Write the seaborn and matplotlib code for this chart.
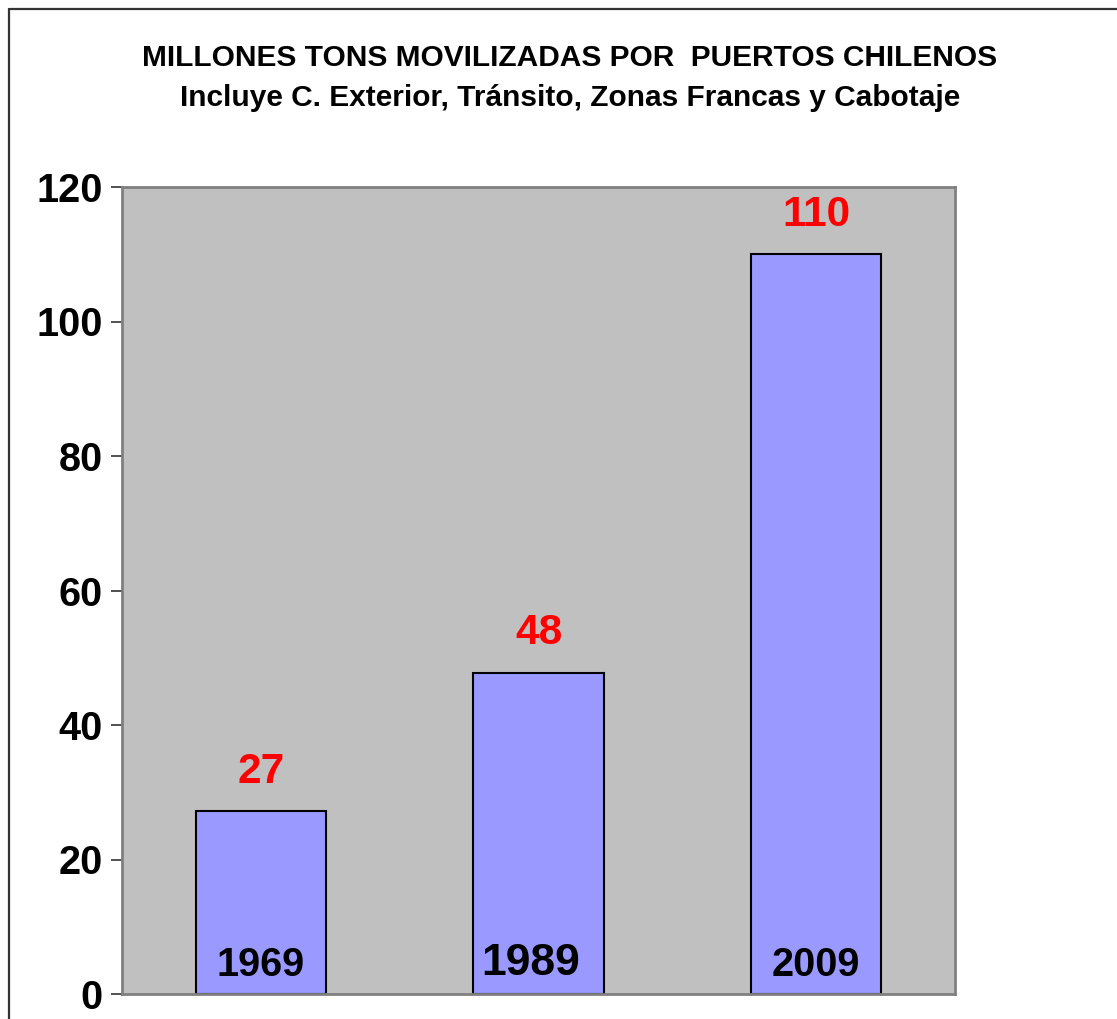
import matplotlib
matplotlib.use("Agg")
import matplotlib.pyplot as plt
import matplotlib.transforms as mtransforms
from matplotlib.lines import Line2D
import seaborn as sns
import pandas as pd

# Data
years = ["1969", "1989", "2009"]
tons = [27.2, 47.8, 110.0]
value_labels = ["27", "48", "110"]
year_sizes = [28.5, 32, 28.5]

title_1 = "MILLONES TONS MOVILIZADAS POR  PUERTOS CHILENOS"
title_2 = "Incluye C. Exterior, Tránsito, Zonas Francas y Cabotaje"

df = pd.DataFrame({"Year": years, "Tons": tons})

sns.set_style("white")
plt.rcParams["font.family"] = ["Liberation Sans", "DejaVu Sans"]
plt.rcParams["font.weight"] = "bold"
plt.rcParams["text.color"] = "black"
plt.rcParams["ytick.labelcolor"] = "black"

fig = plt.figure(figsize=(11.17, 10.19), dpi=100)
ax = fig.add_axes([122 / 1117, 1 - 994 / 1019, (955 - 122) / 1117, (994 - 187) / 1019])
ax.set_facecolor("#C0C0C0")

sns.barplot(data=df, x="Year", y="Tons", color="#9999FF", saturation=1,
            edgecolor="black", linewidth=1.5, width=0.47, ax=ax)

ax.set_ylim(0, 120)
ax.set_xlim(-0.5, 2.5)
ax.set_yticks(range(0, 121, 20))
ax.tick_params(axis="y", length=8, width=1.2, color="#333333", labelsize=28.5,
               labelcolor="black", pad=6, left=True)
ax.tick_params(axis="x", bottom=False, labelbottom=False)
for lab in ax.get_yticklabels():
    lab.set_fontweight("bold")
ax.set_xlabel("")
ax.set_ylabel("")
for s in ax.spines.values():
    s.set_color("#808080")
    s.set_linewidth(2)
    s.set_visible(True)

# value labels above bars
for i, (v, lab) in enumerate(zip(tons, value_labels)):
    ax.annotate(lab, (i, v), xytext=(0, 14), textcoords="offset points",
                ha="center", va="bottom", color="red", fontsize=30.5, fontweight="bold")

# year labels inside bars at bottom (the middle one sits a bit left in the original)
year_shift = [0, -6, 0]
trans = mtransforms.blended_transform_factory(ax.transData, ax.transAxes)
for i, (yr, fs) in enumerate(zip(years, year_sizes)):
    t = trans + mtransforms.ScaledTranslation(year_shift[i] / 72, 0, fig.dpi_scale_trans)
    ax.text(i, 0.012, yr, transform=t, ha="center", va="bottom",
            fontsize=fs, fontweight="bold", color="black")

# titles
fig.text(570 / 1117, 1 - 58 / 1019, title_1, ha="center", va="center", fontsize=21.5, fontweight="bold")
fig.text(570 / 1117, 1 - 98 / 1019, title_2, ha="center", va="center", fontsize=21.5, fontweight="bold")

# outer chart border
x0 = 9 / 1117
y0 = 1 - 9 / 1019
fig.add_artist(Line2D([x0, 1], [y0, y0], transform=fig.transFigure, color="#333333", lw=1.6))
fig.add_artist(Line2D([x0, x0], [0, y0], transform=fig.transFigure, color="#333333", lw=1.6))

fig.savefig("out.png", dpi=100)
